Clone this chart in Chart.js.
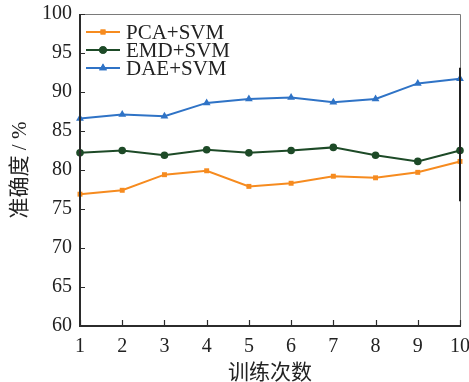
<!DOCTYPE html>
<html>
<head>
<meta charset="utf-8">
<script src="https://cdn.jsdelivr.net/npm/chart.js@4.4.1/dist/chart.umd.min.js"></script>
<style>
  html, body { margin: 0; padding: 0; background: #fff; }
  #wrap { position: relative; width: 469px; height: 382px; }
</style>
</head>
<body>
<div id="wrap"><canvas id="c" width="469" height="382"></canvas></div>
<script>
const runs = ['1', '2', '3', '4', '5', '6', '7', '8', '9', '10'];
const yTicks = [60, 65, 70, 75, 80, 85, 90, 95, 100];
const pcaSvm = [76.9, 77.4, 79.4, 79.9, 77.9, 78.3, 79.2, 79.0, 79.7, 81.1];
const emdSvm = [82.2, 82.5, 81.9, 82.6, 82.2, 82.5, 82.9, 81.9, 81.1, 82.5];
const daeSvm = [86.6, 87.1, 86.9, 88.6, 89.1, 89.3, 88.7, 89.1, 91.1, 91.7];

const SERIF = '"Liberation Serif", "Noto Sans CJK SC", serif';
const AXIS = '#2b2b2b';

const series = [
  { label: 'PCA+SVM', data: pcaSvm, color: '#f68b1f', style: 'rect', r: 3.5 },
  { label: 'EMD+SVM', data: emdSvm, color: '#1d4a27', style: 'circle', r: 3.8 },
  { label: 'DAE+SVM', data: daeSvm, color: '#2f73c6', style: 'triangle', r: 4.5 },
];

// frame, inward ticks, stray right-edge bar, in-plot legend
const decor = {
  id: 'decor',
  afterDatasetsDraw(chart) {
    const { ctx, chartArea: a, scales } = chart;
    const x = scales.x, y = scales.y;
    ctx.save();
    ctx.strokeStyle = '#7a7a7a';
    ctx.lineWidth = 1;
    ctx.beginPath();
    ctx.moveTo(a.left, a.top + 0.5); ctx.lineTo(a.right + 0.5, a.top + 0.5); ctx.lineTo(a.right + 0.5, a.bottom);
    ctx.stroke();

    ctx.strokeStyle = AXIS;
    ctx.lineWidth = 2;
    ctx.beginPath();
    ctx.moveTo(a.left, a.top); ctx.lineTo(a.left, a.bottom); ctx.lineTo(a.right + 1, a.bottom);
    ctx.stroke();

    ctx.lineWidth = 1.2;
    ctx.beginPath();
    runs.forEach((r, i) => {
      const px = Math.round(x.getPixelForValue(i)) + 0.5;
      ctx.moveTo(px, a.bottom); ctx.lineTo(px, a.bottom - 6);
    });
    yTicks.forEach((v) => {
      const py = Math.round(y.getPixelForValue(v)) + 0.5;
      ctx.moveTo(a.left, py); ctx.lineTo(a.left + 5, py);
    });
    ctx.stroke();

    ctx.lineWidth = 2;
    ctx.strokeStyle = '#222';
    ctx.beginPath();
    ctx.moveTo(a.right, y.getPixelForValue(93.1));
    ctx.lineTo(a.right, y.getPixelForValue(76));
    ctx.stroke();

    ctx.font = '21px ' + SERIF;
    ctx.textBaseline = 'middle';
    series.forEach((s, i) => {
      const cy = a.top + 18 + i * 18;
      const x0 = a.left + 6, x1 = a.left + 40;
      ctx.strokeStyle = s.color;
      ctx.lineWidth = 2;
      ctx.beginPath(); ctx.moveTo(x0, cy); ctx.lineTo(x1, cy); ctx.stroke();
      ctx.fillStyle = s.color;
      Chart.helpers.drawPoint(ctx, { pointStyle: s.style, radius: s.r, rotation: 0, borderWidth: 0 }, (x0 + x1) / 2, cy);
      ctx.fill();
      ctx.fillStyle = '#222';
      ctx.fillText(s.label, a.left + 46, cy + 1);
    });
    ctx.restore();
  },
};

new Chart(document.getElementById('c').getContext('2d'), {
  type: 'line',
  data: {
    labels: runs,
    datasets: series.map((s) => ({
      label: s.label, data: s.data,
      borderColor: s.color, backgroundColor: s.color,
      borderWidth: 2, tension: 0,
      pointStyle: s.style, pointRadius: s.r, pointBorderWidth: 0,
      clip: false,
    })),
  },
  options: {
    responsive: false, animation: false,
    layout: { padding: { top: 14, right: 9, left: 0, bottom: 0 } },
    plugins: { legend: { display: false }, tooltip: { enabled: false } },
    scales: {
      x: {
        type: 'category', offset: false,
        grid: { display: false, drawTicks: false }, border: { display: false },
        ticks: { color: '#222', font: { family: SERIF, size: 20 }, padding: 9, maxRotation: 0, autoSkip: false },
        title: { display: true, text: '训练次数', color: '#222', font: { family: SERIF, size: 21 }, padding: { top: 2, bottom: -4 } },
        afterFit(s) { s.height = 56; s.paddingLeft = 0; s.paddingRight = 0; },
      },
      y: {
        min: 60, max: 100,
        afterBuildTicks(s) { s.ticks = yTicks.map((v) => ({ value: v })); },
        grid: { display: false, drawTicks: false }, border: { display: false },
        ticks: { color: '#222', font: { family: SERIF, size: 20 }, padding: 8 },
        title: { display: true, text: '准确度 / %', color: '#222', font: { family: SERIF, size: 21 }, padding: { top: 8, bottom: 0 } },
        afterFit(s) { s.width = 80; s.paddingTop = 0; s.paddingBottom = 0; },
      },
    },
  },
  plugins: [decor],
});
</script>
</body>
</html>
